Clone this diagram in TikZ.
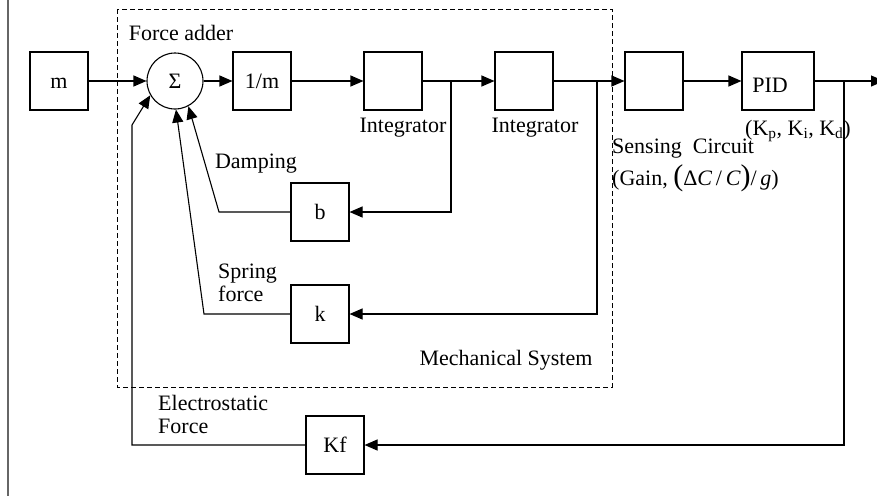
\documentclass[tikz,border=0pt]{standalone}
\usepackage{fontspec}
\setmainfont{Liberation Serif}
\usetikzlibrary{arrows.meta}
\begin{document}
\begin{tikzpicture}[x=1pt,y=-1pt,
  font=\fontsize{22}{26}\selectfont,
  blk/.style={draw,line width=1.1pt,minimum width=58pt,minimum height=58pt,inner sep=0pt,text height=15pt,text depth=0pt},
  sumc/.style={draw,circle,line width=1.1pt,minimum size=56pt,inner sep=0pt,text height=15pt,text depth=0pt},
  ln/.style={line width=1.1pt},
  arr/.style={ln,-{Triangle[length=13pt,width=11pt]}},
  lbl/.style={inner sep=0pt}]
\useasboundingbox (0,0) rectangle (877,496);
% frame line on the left
\draw[line width=2pt,black!60] (8,0) -- (8,496);
% mechanical system border
\draw[line width=1pt,dash pattern=on 5pt off 3pt] (117,9) rectangle (612,387);
% blocks
\node[blk] (m) at (59,81) {m};
\node[sumc] (sig) at (175,81) {Σ};
\node[blk] (onem) at (262,81) {1/m};
\node[blk] (int1) at (393,81) {};
\node[blk] (int2) at (524,81) {};
\node[blk] (sens) at (654,81) {};
\node[blk,minimum width=72pt] (pid) at (778,81) {};
\node[lbl] (pidt) at (770,85) {PID};
\node[blk] (b) at (320,212) {b};
\node[blk] (k) at (320,314) {k};
\node[blk] (kf) at (335,445) {Kf};
% coordinates
\coordinate (br1) at (451,81);
\coordinate (br2) at (597,81);
\coordinate (br3) at (844,81);
\coordinate (out) at (884,81);
\coordinate (cb) at (219,212);
\coordinate (ck) at (204,314);
\coordinate (ce1) at (132,445);
\coordinate (ce2) at (132,125);
% forward path
\draw[arr] (m) -- (sig);
\draw[arr] (sig) -- (onem);
\draw[arr] (onem) -- (int1);
\draw[arr] (int1) -- (int2);
\draw[arr] (int2) -- (sens);
\draw[arr] (sens) -- (pid);
\draw[arr] (pid) -- (out);
% feedback loops
\draw[arr] (br1) |- (b.east);
\draw[arr] (b.west) -- (cb) -- (sig.-62);
\draw[arr] (br2) |- (k.east);
\draw[arr] (k.west) -- (ck) -- (sig.-88);
\draw[arr] (br3) |- (kf.east);
\draw[arr] (kf.west) -- (ce1) -- (ce2) -- (sig.-150);
% labels
\node[lbl] (fa) at (181,33) {Force adder};
\node[lbl] (il1) at (403,128) {Integrator};
\node[lbl] (il2) at (535,128) {Integrator};
\node[lbl] (dmp) at (256,164) {Damping};
\node[lbl,anchor=west,align=left] (spr) at (218,283) {Spring\\[-3pt]force};
\node[lbl,anchor=west,align=left] (els) at (158,414) {Electrostatic\\[-3pt]Force};
\node[lbl] (mech) at (506,360) {Mechanical System};
\node[lbl,anchor=west] (sc1) at (612,149) {Sensing\ \ Circuit};
\node[lbl,anchor=west] (sc2) at (612,178) {(Gain,\ {\fontsize{30}{30}\selectfont(}Δ\textit{C}\,/\,\textit{C}{\fontsize{30}{30}\selectfont)}/\,\textit{g})};
\node[lbl,anchor=west] (kp) at (745,131) {(K\textsubscript{p}, K\textsubscript{i}, K\textsubscript{d})};
\end{tikzpicture}
\end{document}
